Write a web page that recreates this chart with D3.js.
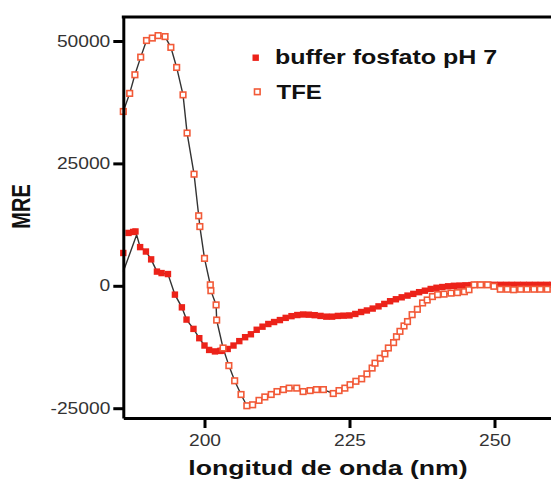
<!DOCTYPE html>
<meta charset="utf-8">
<style>
    body { margin: 0; background: #fff; }
    .tick text { font: 16px "Liberation Sans", Arial, sans-serif; fill: #333; }
    .lbl { font: bold 20px "Liberation Sans", Arial, sans-serif; fill: #111; }
</style>
<svg width="551" height="479"></svg>
<script src="https://d3js.org/d3.v7.min.js"></script>
<script>

    // TFE curve (open squares)
    var wlTFE = [186.0, 187.1, 188.0, 189.0, 190.0, 191.0, 192.0, 193.2, 194.2, 195.2, 196.3, 197.0, 198.2, 199.0, 199.2,
        200.0, 201.0, 201.1, 202.0, 202.1, 203.2, 204.2, 205.2, 206.3, 207.3, 208.3, 209.4, 210.4, 211.5, 212.5,
        213.6, 214.6, 215.9, 217.0, 218.2, 219.3, 220.5, 222.2, 223.2, 224.2, 225.1, 226.1, 227.1, 228.0, 228.9,
        229.4, 230.3, 231.1, 231.7, 232.6, 233.1, 233.7, 234.4, 235.0, 235.8, 236.7, 237.6, 238.4, 239.3, 240.2,
        241.3, 242.5, 243.6, 244.8, 245.6, 246.5, 247.6, 248.8, 249.9, 251.0, 252.2, 253.3, 254.5, 255.6, 256.8,
        257.9, 259.1];
    var mreTFE = [35600, 39300, 43100, 46700, 50100, 50600, 51100, 50900, 48700, 44600, 39000, 31200, 22800, 14300, 12100,
        5600, 200, -1000, -3900, -7000, -12700, -16300, -19400, -22200, -24500, -24300, -23400, -22700, -22200, -21600,
        -21200, -20900, -20900, -21600, -21400, -21200, -21200, -22000, -21400, -20900, -20200, -19500, -19000, -18000, -16800,
        -15800, -14800, -13900, -12700, -11600, -10400, -9300, -8200, -7300, -5900, -4800, -3500, -2900, -2200, -1800,
        -1700, -1500, -1400, -1200, -800, 200, 200, 200, -100, -700, -700, -800, -700, -700, -700,
        -700, -700];

    // buffer fosfato pH 7 (filled squares)
    var wlBuffer = [186.0, 186.9, 187.7, 188.1, 188.9, 189.9, 190.8, 191.8, 192.6, 193.7, 194.9, 196.1, 196.9, 198.1, 199.1,
        200.0, 200.8, 201.8, 202.7, 203, 204, 205, 206, 207, 208, 209, 210, 211, 212, 213, 214, 215, 216, 217, 218,
        219, 220, 221, 222, 223, 224, 225, 226, 227, 228, 229, 230, 231, 232, 233, 234, 235, 236, 237, 238, 239,
        240, 241, 242, 243, 244, 245, 246, 247, 248, 249, 250, 251, 252, 253, 254, 255, 256, 257, 258, 259, 260];
    var mreBuffer = [6700, 10800, 11000, 11100, 7900, 7000, 5400, 2900, 2600, 2400, -1800, -4400, -6900, -8800, -10700,
        -12200, -13100, -13400, -13300, -13250, -12900, -12200, -11300, -10500, -9900, -8980, -8350, -7800, -7400, -7000, -6550, -6200, -5970, -5860, -5900,
        -6000, -6150, -6300, -6300, -6150, -6100, -6050, -5750, -5350, -5040, -4650, -4200, -3700, -3150, -2750, -2350, -2000, -1650, -1300, -1000, -650,
        -400, -250, -100, 0, 50, 100, 150, 200, 200, 200, 200, 200, 200, 200, 200, 200, 200, 200, 200, 200, 200];

    // start of the fitted line for the buffer curve (differs from the points)
    var fitBufferWl = [186.0, 188.3];
    var fitBufferMre = [2900, 10400];

    var xTicks = [200, 225, 250];
    var yTicks = [-25000, 0, 25000, 50000];
    var seriesNames = ["buffer fosfato pH 7", "TFE"];

    var svg = d3.select("svg");

    var x = d3.scaleLinear().domain([186, 260]).range([123.3, 552.5]);
    var y = d3.scaleLinear().domain([-27000, 54900]).range([418, 17]);

    var tfe = wlTFE.map(function(w, i) { return [w, mreTFE[i]]; });
    var buffer = wlBuffer.map(function(w, i) { return [w, mreBuffer[i]]; });
    var bufferFit = fitBufferWl.map(function(w, i) { return [w, fitBufferMre[i]]; })
            .concat(buffer.filter(function(d) { return d[0] > 188.5; }));

    var line = d3.line().x(function(d) { return x(d[0]); }).y(function(d) { return y(d[1]); });

    function stretch(sel, k) {
        sel.each(function() {
            var w = this.getComputedTextLength();
            d3.select(this).attr("textLength", w * k).attr("lengthAdjust", "spacingAndGlyphs");
        });
    }

    var bs = 6.4, ts = 5.6;

    // fitted lines
    svg.append("path").datum(tfe).attr("d", line)
            .attr("fill", "none").attr("stroke", "#333").attr("stroke-width", 1.4);
    svg.append("path").datum(bufferFit).attr("d", line)
            .attr("fill", "none").attr("stroke", "#333").attr("stroke-width", 1.4);

    // buffer points
    svg.append("g").selectAll("rect")
            .data(buffer)
            .enter().append("rect")
            .attr("x", function(d) { return x(d[0]) - bs / 2; })
            .attr("y", function(d) { return y(d[1]) - bs / 2; })
            .attr("width", bs).attr("height", bs)
            .attr("fill", "#ec2219");

    // TFE points
    svg.append("g").selectAll("rect")
            .data(tfe)
            .enter().append("rect")
            .attr("x", function(d) { return x(d[0]) - ts / 2; })
            .attr("y", function(d) { return y(d[1]) - ts / 2; })
            .attr("width", ts).attr("height", ts)
            .attr("fill", "#fff").attr("stroke", "#f25a38").attr("stroke-width", 1.6);

    // axes
    svg.append("g")
            .attr("transform", "translate(" + x.range()[0] + ",0)")
            .call(d3.axisLeft(y).tickValues(yTicks).tickSize(10).tickSizeOuter(0).tickPadding(3).tickFormat(String));
    svg.append("g")
            .attr("transform", "translate(0," + y.range()[0] + ")")
            .call(d3.axisBottom(x).tickValues(xTicks).tickSize(10).tickSizeOuter(0).tickPadding(7).tickFormat(String));

    svg.selectAll(".domain, .tick line").attr("stroke", "#000").attr("stroke-width", 3);
    svg.selectAll(".tick text").attr("font-family", null).attr("font-size", null).attr("fill", null)
            .call(stretch, 1.2);

    svg.append("line")
            .attr("x1", x.range()[0] - 1.5).attr("x2", 551)
            .attr("y1", y.range()[1]).attr("y2", y.range()[1])
            .attr("stroke", "#000").attr("stroke-width", 3);

    // axis titles
    svg.append("text").attr("class", "lbl")
            .attr("x", 328).attr("y", 475)
            .attr("text-anchor", "middle")
            .text("longitud de onda (nm)")
            .call(stretch, 1.33);

    svg.append("text").attr("class", "lbl")
            .attr("transform", "translate(29.5,206.5) rotate(-90) scale(1,1.33)")
            .attr("text-anchor", "middle")
            .text("MRE");

    // legend
    var legend = svg.append("g");
    legend.append("rect").attr("x", 252.5).attr("y", 54.5).attr("width", bs).attr("height", bs).attr("fill", "#ec2219");
    legend.append("rect").attr("x", 254.5).attr("y", 89).attr("width", ts).attr("height", ts)
            .attr("fill", "#fff").attr("stroke", "#f25a38").attr("stroke-width", 1.6);
    legend.append("text").attr("class", "lbl").attr("x", 275).attr("y", 63.5).text(seriesNames[0]).call(stretch, 1.25);
    legend.append("text").attr("class", "lbl").attr("x", 276.5).attr("y", 98.5).text(seriesNames[1]).call(stretch, 1.2);

</script>
